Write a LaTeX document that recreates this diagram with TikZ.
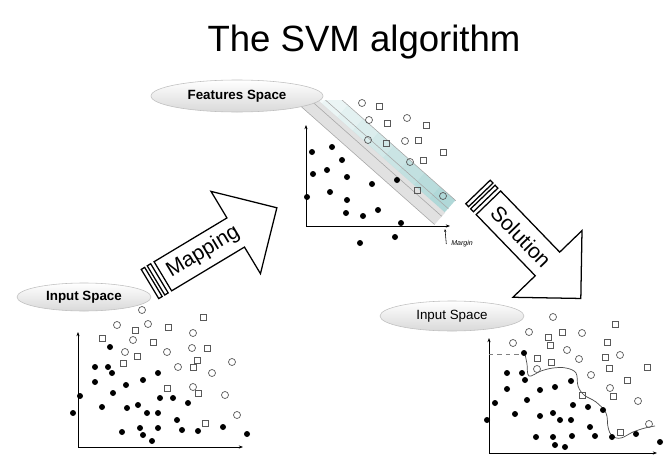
\documentclass[tikz,border=0pt]{standalone}
\usepackage{fontspec}
\setmainfont{Liberation Sans}
\usetikzlibrary{arrows.meta,shapes.geometric}
\tikzset{
  spacebox/.style = {ellipse, draw=gray!50, top color=white, bottom color=gray!30, inner sep=0pt, font=\bfseries\fontsize{9.5}{11}\selectfont},
  axis/.style = {line width=0.6pt, {Stealth[length=3pt]}-{Stealth[length=3pt]}},
  blockarrow/.style = {draw=black, line width=0.9pt, fill=white, line join=miter},
  arrowtext/.style = {font=\fontsize{15}{18}\selectfont, inner sep=0pt},
  filled/.style = {fill=black},
  hollow/.style = {draw=black!65, line width=0.5pt},
}
\begin{document}
\begin{tikzpicture}[x=0.025cm, y=-0.025cm]
\useasboundingbox (0,0) rectangle (664,460);
\node [font=\fontsize{26}{30}\selectfont] (title) at (364,42) {The SVM algorithm};

% feature space: margin band first, so the points sit on top
\begin{scope}
  \clip (290,100) rectangle (470,240);
  \begin{scope}[shift={(296,102)}, rotate=-41.5]
    \fill [gray!30, fill opacity=0.8] (0,0) rectangle (185,-16);
    \foreach \s in {0,...,8} {
      \pgfmathsetmacro\op{0.08+0.06*\s}
      \fill [teal!55, fill opacity=\op] ({20.5*\s},-16) rectangle ({20.5*\s+20.5},-32);
    }
    \foreach \b in {0,-11,-21,-32}
      \draw [gray!70, line width=0.4pt] (0,\b) -- (185,\b);
  \end{scope}
\end{scope}
\node [spacebox, minimum width=4.3cm, minimum height=0.8cm] (featspace) at (237,96) {Features Space};
\draw [axis] (306,125) -- (306,226) -- (450,226);
\foreach \x/\y in {312/152,332/147,342/160,313/174,327/170,347/177,372/184,307/197,330/192,347/200,346/213,363/216,378/210,401/223,360/243,395/237,397/180}
  \fill [filled] (\x,\y) circle [radius=3];
\foreach \x/\y in {362/103,369/120,407/118,368/140,405/141,410/162,443/196}
  \draw [hollow] (\x,\y) circle [radius=3.5];
\foreach \x/\y in {379/106,387/123,426/125,386/143,418/140,443/152,423/160,417/190}
  \draw [hollow] ({\x-3},{\y-3}) rectangle ({\x+3},{\y+3});
\node [font=\itshape\fontsize{5}{6}\selectfont] (marginlbl) at (462,244) {Margin};
\coordinate (margintip) at (445,229);
\draw [-{Stealth[length=2pt]}, line width=0.4pt] (marginlbl.west) -- (margintip);

% input space, left
\node [spacebox, minimum width=3.35cm, minimum height=0.7cm] (inleft) at (84,297) {Input Space};
\draw [axis] (78,332) -- (78,447) -- (243,447);
\foreach \x/\y in {110/347,95/367,108/367,112/373,95/382,126/385,143/380,158/373,80/396,113/393,102/407,127/408,138/405,147/413,158/413,160/398,173/398,188/403,73/413,177/420,122/432,140/428,158/428,182/430,198/431,223/427,143/435,152/441,247/434}
  \fill [filled] (\x,\y) circle [radius=3];
\foreach \x/\y in {142/310,117/325,148/324,193/333,133/340,192/348,125/352,167/352,232/362,178/367,212/373,193/387,225/395,237/415}
  \draw [hollow] (\x,\y) circle [radius=3.5];
\foreach \x/\y in {203/317,135/330,168/327,102/338,153/342,207/348,137/356,197/360,123/363,193/367,167/388,198/393,205/423}
  \draw [hollow] ({\x-3},{\y-3}) rectangle ({\x+3},{\y+3});

% input space, right
\node [spacebox, minimum width=3.6cm, minimum height=0.75cm, font=\fontsize{9.5}{11}\selectfont] (inright) at (452,316) {Input Space};
\draw [axis] (489,338) -- (489,453) -- (657,453);
\draw [dashed, gray, line width=0.4pt] (489,354) -- (525,354);
\draw [gray!60!black, line width=0.5pt] plot [smooth, tension=0.6] coordinates {(525,354) (527,364) (529,376) (541,371) (553,368) (566,368) (576,373) (578,386) (584,395) (596,402) (606,413) (608,427) (612,436) (621,438) (633,432) (645,428) (655,426)};
\foreach \x/\y in {524/353,507/373,522/373,525/380,507/389,540/390,555/387,571/381,527/400,495/403,515/414,540/416,553/413,573/405,588/407,603/410,487/420,560/420,571/420,590/427,536/437,553/437,572/436,595/436,612/437,636/434,555/445,565/447,660/442}
  \fill [filled] (\x,\y) circle [radius=3];
\foreach \x/\y in {553/317,529/332,582/333,513/343,567/350,579/359,620/355,537/369,591/375,610/388,638/401,649/424}
  \draw [hollow] (\x,\y) circle [radius=3.5];
\foreach \x/\y in {615/324,562/332,548/337,607/342,550/345,537/358,605/357,551/362,647/367,609/368,627/380,582/395,613/396,620/432}
  \draw [hollow] ({\x-3},{\y-3}) rectangle ({\x+3},{\y+3});

% mapping arrow
\begin{scope}[shift={(150,284)}, rotate=31]
  \draw [blockarrow] (0,-17) rectangle (4,17);
  \draw [blockarrow] (7,-17) rectangle (11,17);
  \draw [blockarrow] (15,-17) -- (100,-17) -- (100,-48) -- (148,0) -- (100,48) -- (100,17) -- (15,17) -- cycle;
  \node [arrowtext, rotate=31] (mapping) at (62,0) {Mapping};
\end{scope}

% solution arrow
\begin{scope}[shift={(478,192)}, rotate=-46]
  \draw [blockarrow] (0,-17) rectangle (4,17);
  \draw [blockarrow] (7,-17) rectangle (11,17);
  \draw [blockarrow] (15,-17) -- (100,-17) -- (100,-48) -- (148,0) -- (100,48) -- (100,17) -- (15,17) -- cycle;
  \node [arrowtext, rotate=-46] (solution) at (62,0) {Solution};
\end{scope}
\end{tikzpicture}
\end{document}
